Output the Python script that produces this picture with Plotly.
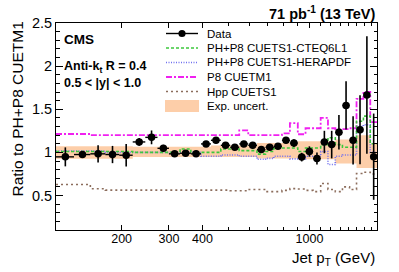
import numpy as np
import plotly.graph_objects as go

# ---------------- data ----------------
pt_edges = [114, 133, 153, 174, 196, 220, 245, 272, 300, 330, 362, 395, 430, 468, 507,
            548, 592, 638, 686, 737, 790, 846, 905, 967, 1032, 1101, 1172, 1248, 1327,
            1410, 1497, 1588, 1684, 1784]

ratio_data = [0.948, 0.975, 0.983, 0.975, 0.967, 1.121, 1.174, 1.047, 0.983, 0.990,
              0.983, 1.098, 1.140, 1.082, 1.059, 1.098, 1.082, 1.032, 1.059, 1.070,
              1.140, 1.108, 0.945, 1.010, 0.928, 1.120, 1.090, 1.232, 1.544, 1.140,
              1.263, 1.665, 0.950]
ratio_err = [0.11, 0.04, 0.10, 0.10, 0.13, 0.045, 0.08, 0.04, 0.035, 0.035,
             0.035, 0.035, 0.035, 0.035, 0.035, 0.035, 0.035, 0.035, 0.035, 0.035,
             0.035, 0.045, 0.05, 0.06, 0.07, 0.13, 0.16, 0.20, 0.28, 0.28,
             0.40, 0.68, 0.50]

ph_cteq = [1.01, 1.01, 1.01, 1.01, 1.01, 1.00, 1.00, 1.00, 1.00, 1.04,
           0.99, 1.00, 1.00, 1.04, 1.04, 1.02, 1.02, 0.98, 1.01, 1.05,
           1.05, 1.05, 1.01, 1.05, 1.05, 1.09, 1.17, 1.09, 1.06, 1.06,
           1.36, 1.42, 1.10]
ph_hera = [1.015, 1.015, 1.015, 1.00, 1.00, 1.00, 1.00, 1.00, 1.00, 1.00,
           1.00, 0.955, 0.955, 0.97, 0.97, 0.955, 0.955, 0.92, 0.93, 0.955,
           0.955, 0.925, 0.925, 0.955, 0.955, 1.01, 0.86, 0.955, 0.97, 0.97,
           1.30, 1.32, 1.00]
p8_cuetm1 = [1.213, 1.213, 1.20, 1.20, 1.20, 1.20, 1.20, 1.20, 1.20, 1.20,
             1.20, 1.20, 1.20, 1.20, 1.20, 1.255, 1.20, 1.20, 1.20, 1.20,
             1.22, 1.34, 1.21, 1.28, 1.28, 1.40, 1.28, 1.27, 1.27, 1.28,
             1.62, 1.70, 1.35]
hpp_cuets1 = [0.628, 0.628, 0.579, 0.562, 0.562, 0.562, 0.562, 0.562, 0.562, 0.562,
              0.562, 0.562, 0.562, 0.562, 0.555, 0.555, 0.57, 0.57, 0.545, 0.545,
              0.56, 0.58, 0.575, 0.56, 0.545, 0.64, 0.57, 0.545, 0.60, 0.57,
              0.755, 0.77, 0.75]
unc_low = [0.925, 0.925, 0.925, 0.925, 0.925, 0.945, 0.945, 0.945, 0.945, 0.945,
           0.945, 0.945, 0.945, 0.945, 0.945, 0.945, 0.945, 0.93, 0.93, 0.93,
           0.93, 0.93, 0.92, 0.92, 0.92, 0.92, 0.92, 0.87, 0.87, 0.87,
           0.82, 0.82, 0.82]
unc_high = [1.07, 1.07, 1.07, 1.07, 1.07, 1.065, 1.065, 1.065, 1.065, 1.065,
            1.065, 1.065, 1.08, 1.08, 1.08, 1.08, 1.08, 1.11, 1.11, 1.11,
            1.11, 1.11, 1.13, 1.13, 1.13, 1.13, 1.13, 1.15, 1.15, 1.15,
            1.20, 1.20, 1.10]

x_tick_vals = [200, 300, 400, 1000]
x_tick_text = ["200", "300", "400", "1000"]
x_minor_vals = [500, 600, 700, 800, 900, 1100, 1200, 1300, 1400, 1500, 1600, 1700]

legend_labels = ["Data", "PH+P8 CUETS1-CTEQ6L1", "PH+P8 CUETS1-HERAPDF",
                 "P8 CUETM1", "Hpp CUETS1", "Exp. uncert."]

# ---------------- derived ----------------
edges = np.array(pt_edges, dtype=float)
centers = 0.5 * (edges[:-1] + edges[1:])
ex_plus = edges[1:] - centers
ex_minus = centers - edges[:-1]


def step_y(vals):
    return list(vals) + [vals[-1]]


FONT = "Liberation Sans, Arial, sans-serif"
C_GREEN = "#3cc83c"
C_BLUE = "#6f6ff0"
C_MAG = "#f020f0"
C_BROWN = "#8c6d5c"
C_BAND = "rgba(252,190,140,0.75)"

fig = go.Figure()

# uncertainty band
fig.add_trace(go.Scatter(x=edges, y=step_y(unc_low), mode="lines", line=dict(width=0, shape="hv"),
                         hoverinfo="skip", showlegend=False))
fig.add_trace(go.Scatter(x=edges, y=step_y(unc_high), mode="lines", line=dict(width=0, shape="hv"),
                         fill="tonexty", fillcolor=C_BAND, showlegend=False))

# model curves
fig.add_trace(go.Scatter(x=edges, y=step_y(hpp_cuets1), mode="lines", showlegend=False,
                         line=dict(color=C_BROWN, width=1.6, dash="2px,3px", shape="hv")))
fig.add_trace(go.Scatter(x=edges, y=step_y(p8_cuetm1), mode="lines", showlegend=False,
                         line=dict(color=C_MAG, width=1.8, dash="6px,2px,2px,2px", shape="hv")))
fig.add_trace(go.Scatter(x=edges, y=step_y(ph_hera), mode="lines", showlegend=False,
                         line=dict(color=C_BLUE, width=1.6, dash="1px,1.5px", shape="hv")))
fig.add_trace(go.Scatter(x=edges, y=step_y(ph_cteq), mode="lines", showlegend=False,
                         line=dict(color=C_GREEN, width=1.6, dash="3px,2px", shape="hv")))

# data
fig.add_trace(go.Scatter(
    x=centers, y=ratio_data, mode="markers", showlegend=False,
    marker=dict(color="black", size=7.5, symbol="circle"),
    error_y=dict(type="data", array=ratio_err, color="black", thickness=1.6, width=0),
    error_x=dict(type="data", array=ex_plus, arrayminus=ex_minus, color="black",
                 thickness=1.4, width=0),
))

# ---------------- layout ----------------
L, R, T, B = 56, 22, 23, 42
W, H = 399, 272
PW, PH = W - L - R, H - T - B


def xp(px):
    return (px - L) / PW


def yp(py):
    return (T + PH - py) / PH


shapes = []
annotations = []

# custom legend
rows = [33.5, 48, 62.5, 77, 91.5, 106]
x0s, x1s, xt = 166, 198, 205
line_styles = [None,
               dict(color=C_GREEN, width=1.6, dash="3px,2px"),
               dict(color=C_BLUE, width=1.6, dash="1px,1.5px"),
               dict(color=C_MAG, width=1.8, dash="6px,2px,2px,2px"),
               dict(color=C_BROWN, width=1.6, dash="2px,3px"),
               None]
for i, (lab, ry) in enumerate(zip(legend_labels, rows)):
    if i == 0:
        shapes.append(dict(type="line", xref="paper", yref="paper", x0=xp(x0s), x1=xp(x1s),
                           y0=yp(ry), y1=yp(ry), line=dict(color="black", width=1.4)))
        shapes.append(dict(type="circle", xref="paper", yref="paper",
                           x0=xp(182 - 3.6), x1=xp(182 + 3.6), y0=yp(ry + 3.6), y1=yp(ry - 3.6),
                           fillcolor="black", line=dict(color="black", width=0)))
    elif i == 5:
        shapes.append(dict(type="rect", xref="paper", yref="paper", x0=xp(165), x1=xp(199),
                           y0=yp(ry + 6), y1=yp(ry - 6), fillcolor=C_BAND, line=dict(width=0)))
    else:
        shapes.append(dict(type="line", xref="paper", yref="paper", x0=xp(x0s), x1=xp(x1s),
                           y0=yp(ry), y1=yp(ry), line=line_styles[i]))
    annotations.append(dict(text=lab, x=xp(xt), y=yp(ry), xref="paper", yref="paper",
                            xanchor="left", yanchor="middle", showarrow=False,
                            font=dict(family=FONT, size=11.5, color="black")))

# texts
annotations += [
    dict(text="<b>71 pb<sup>-1</sup> (13 TeV)</b>", x=1.0, y=yp(13), xref="paper", yref="paper",
         xanchor="right", yanchor="middle", showarrow=False,
         font=dict(family=FONT, size=14.5, color="black")),
    dict(text="<b>CMS</b>", x=xp(62), y=yp(39), xref="paper", yref="paper",
         xanchor="left", yanchor="middle", showarrow=False,
         font=dict(family=FONT, size=13.5, color="black")),
    dict(text="<b>Anti-k<sub>t</sub> R = 0.4</b>", x=xp(62), y=yp(67), xref="paper", yref="paper",
         xanchor="left", yanchor="middle", showarrow=False,
         font=dict(family=FONT, size=12.5, color="black")),
    dict(text="<b>0.5 &lt; |y| &lt; 1.0</b>", x=xp(62), y=yp(83), xref="paper", yref="paper",
         xanchor="left", yanchor="middle", showarrow=False,
         font=dict(family=FONT, size=12.5, color="black")),
    dict(text="Ratio to PH+P8 CUETM1", x=xp(17), y=yp(20), xref="paper", yref="paper",
         textangle=-90, xanchor="center", yanchor="top", showarrow=False,
         font=dict(family=FONT, size=15.5, color="black")),
    dict(text="Jet p<sub>T</sub> (GeV)", x=1.0, y=yp(247), xref="paper", yref="paper",
         xanchor="right", yanchor="top", showarrow=False,
         font=dict(family=FONT, size=15, color="black")),
]

fig.update_layout(
    template="none",
    width=W, height=H, autosize=False,
    margin=dict(l=L, r=R, t=T, b=B, pad=0),
    paper_bgcolor="white", plot_bgcolor="white",
    showlegend=False,
    shapes=shapes, annotations=annotations,
    font=dict(family=FONT, color="black"),
    xaxis=dict(type="log", range=[np.log10(pt_edges[0]), np.log10(pt_edges[-1])],
               showline=True, linecolor="black", linewidth=1, mirror="allticks",
               ticks="inside", ticklen=5, tickcolor="black",
               tickmode="array", tickvals=x_tick_vals, ticktext=x_tick_text,
               ticklabelstandoff=-3,
               tickfont=dict(family=FONT, size=12.5, color="black"),
               showgrid=False, zeroline=False, automargin=False,
               minor=dict(tickmode="array", tickvals=x_minor_vals, ticks="inside",
                          ticklen=3, tickcolor="black", showgrid=False)),
    yaxis=dict(range=[0.1, 2.5], showline=True, linecolor="black", linewidth=1,
               mirror="allticks", ticks="inside", ticklen=7, tickcolor="black",
               tick0=0.5, dtick=0.5,
               tickfont=dict(family=FONT, size=14.5, color="black"),
               showgrid=False, zeroline=False, automargin=False,
               minor=dict(dtick=0.1, tick0=0.1, ticks="inside", ticklen=3.5,
                          tickcolor="black", showgrid=False)),
)

fig.write_html("out.html",
               config={"displayModeBar": False, "staticPlot": True},
               post_script="document.body.style.margin='0';document.body.style.overflow='hidden';")
